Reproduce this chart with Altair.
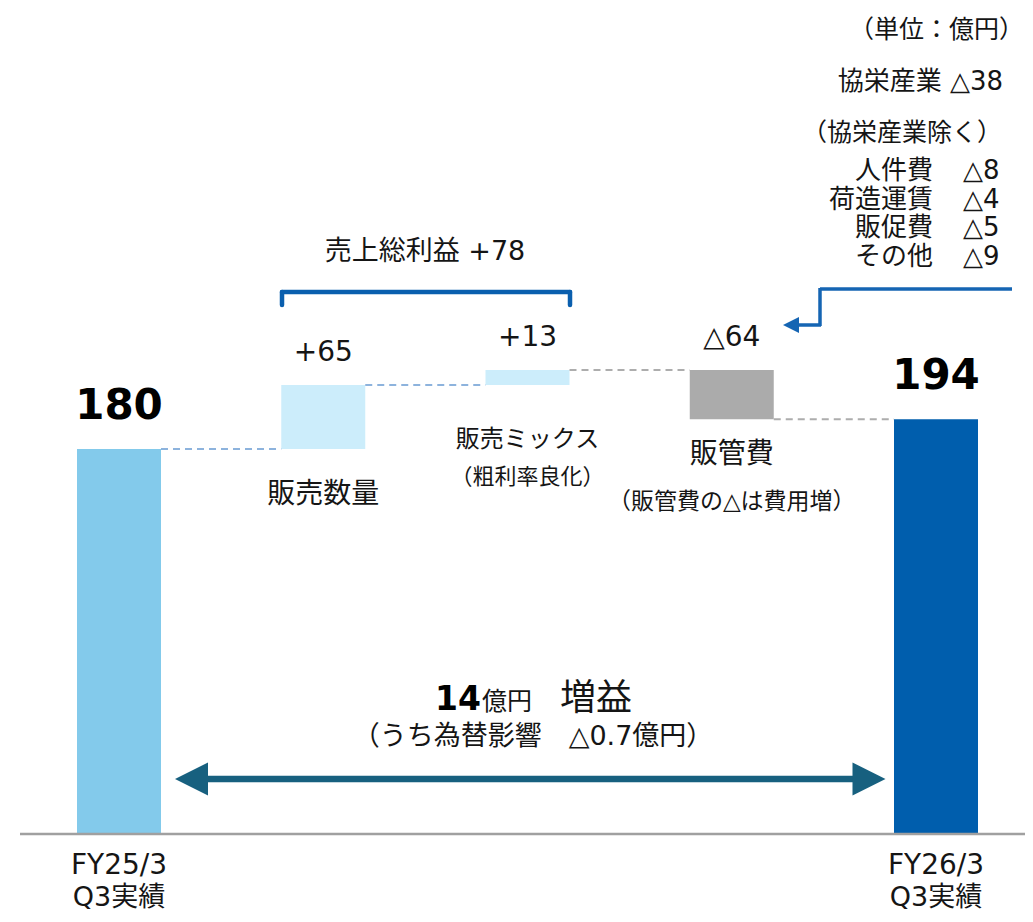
import altair as alt
import pandas as pd

# ---------------- data ----------------
categories = ["FY25/3", "販売数量", "販売ミックス", "販管費", "FY26/3"]
category_sub = ["Q3実績", "", "（粗利率良化）", "（販管費の△は費用増）", "Q3実績"]
amounts = [180, 65, 13, -64, 194]                 # printed values (億円)
value_labels = ["180", "+65", "+13", "△64", "194"]
kinds = ["total", "up", "up", "down", "total"]
drawn_steps = [180, 30, 7, -23, 194]              # bar heights as drawn (slide is not to scale)
bar_colors = ["#83CAEB", "#CCEDFB", "#CCEDFB", "#ABABAB", "#005EAD"]
link_colors = ["#8DB3DD", "#8DB3DD", "#ADADAD", "#ADADAD"]

sga_total = "協栄産業 △38"
sga_note = "（協栄産業除く）"
sga_items = ["人件費", "荷造運賃", "販促費", "その他"]
sga_values = ["△8", "△4", "△5", "△9"]

gross_label = "売上総利益 +78"
unit_label = "（単位：億円）"
diff_num = "14"
diff_unit = "億円"
diff_word = "増益"
fx_note = "（うち為替影響　△0.7億円）"

# ---------------- tables ----------------
STEP = 204.25
HALF = 42 / STEP
rows, level = [], 0
for i, (k, s) in enumerate(zip(kinds, drawn_steps)):
    if k == "total":
        start, end = 0, s
    else:
        start, end = level, level + s
    level = end
    rows.append(dict(idx=i, start=start, end=end, hi=max(start, end),
                     color=bar_colors[i], label=value_labels[i], kind=k))
bars = pd.DataFrame(rows)
links = pd.DataFrame([dict(x0=i + HALF, x1=i + 1 - HALF, lvl=rows[i]["end"], color=link_colors[i])
                      for i in range(len(rows) - 1)])

XMIN = -111 / STEP
X_SCALE = alt.Scale(domain=[XMIN, XMIN + 1017 / STEP], nice=False, zero=False, padding=0)
Y_SCALE = alt.Scale(domain=[-38, 386.75], nice=False, zero=False)
FONT = "DejaVu Sans, Noto Sans CJK JP"
TXT = "#151515"
dummy = pd.DataFrame({"d": [0]})


def xd(i):
    return alt.XDatum(i, type="quantitative", scale=X_SCALE)


def txt(text, x, y, size, align="center", baseline="middle", weight="normal", color=TXT):
    return alt.Chart(dummy).mark_text(
        text=text, fontSize=size, align=align, baseline=baseline, fontWeight=weight,
        color=color, font=FONT
    ).encode(x=x, y=alt.value(y))


def rule(x1, x2, y1, y2, color, width, cap="butt"):
    return alt.Chart(dummy).mark_rule(color=color, strokeWidth=width, strokeCap=cap).encode(
        x=alt.value(x1), x2=alt.value(x2), y=alt.value(y1), y2=alt.value(y2))


def tri(path, x, y, size, color):
    return alt.Chart(dummy).mark_point(shape=path, size=size, filled=True, opacity=1,
                                       color=color, strokeWidth=0).encode(
        x=alt.value(x), y=alt.value(y))


bar_layer = alt.Chart(bars).mark_bar(size=84).encode(
    x=alt.X("idx:Q", scale=X_SCALE, axis=None),
    y=alt.Y("start:Q", scale=Y_SCALE, axis=None),
    y2="end:Q",
    color=alt.Color("color:N", scale=None),
)

link_layer = alt.Chart(links).mark_rule(strokeDash=[7, 5], strokeWidth=2).encode(
    x=alt.X("x0:Q", scale=X_SCALE),
    x2="x1:Q",
    y=alt.Y("lvl:Q", scale=Y_SCALE),
    color=alt.Color("color:N", scale=None),
)

total_labels = alt.Chart(bars).transform_filter("datum.kind == 'total'").mark_text(
    fontSize=42, fontWeight="bold", dy=-43, font=FONT, color="#000000"
).encode(x=alt.X("idx:Q", scale=X_SCALE), y=alt.Y("hi:Q", scale=Y_SCALE), text="label:N")

delta_labels = alt.Chart(bars).transform_filter("datum.kind != 'total'").mark_text(
    fontSize=28, dy=-32, font=FONT, color=TXT
).encode(x=alt.X("idx:Q", scale=X_SCALE), y=alt.Y("hi:Q", scale=Y_SCALE), text="label:N")

baseline = rule(12, 1017, 826, 826, "#A0A0A0", 2.5)

layers = [bar_layer, link_layer, baseline, total_labels, delta_labels]

# category labels
layers += [
    txt(categories[0], xd(0), 858, 28), txt(category_sub[0], xd(0), 890, 27),
    txt(categories[4], xd(4), 858, 28), txt(category_sub[4], xd(4), 890, 27),
    txt(categories[1], xd(1), 487, 28),
    txt(categories[2], xd(2), 432, 24), txt(category_sub[2], xd(2), 469, 22),
    txt(categories[3], xd(3), 447, 28), txt(category_sub[3], xd(3), 494, 23),
]

# top-right notes
layers += [
    txt(unit_label, alt.value(1016), 22, 25, align="right"),
    txt(sga_total, alt.value(995), 74, 26, align="right"),
    txt(sga_note, alt.value(894), 125, 25),
]
for j, (a, b) in enumerate(zip(sga_items, sga_values)):
    yy = 163 + j * 28.5
    layers += [txt(a, alt.value(925), yy, 26, align="right"),
               txt(b, alt.value(955), yy, 26, align="left")]

# gross profit bracket
BR = "#0A5FAE"
layers += [
    txt(gross_label, alt.value(417), 244, 27),
    rule(274, 562, 284, 284, BR, 4.5, "round"),
    rule(274, 274, 284, 297, BR, 4.5, "round"),
    rule(562, 562, 284, 297, BR, 4.5, "round"),
]

# elbow arrow pointing to SG&A
EA = "#1565B3"
layers += [
    rule(812, 1004, 281, 281, EA, 3.5),
    rule(812, 812, 280, 318, EA, 3.5),
    rule(789, 813, 317, 317, EA, 3.5),
    tri("M-1,0L1,-1L1,1Z", 783, 317, 256, EA),
]

# difference annotation + double arrow
DA = "#17607F"
layers += [
    txt(diff_num, alt.value(427), 702, 33, align="left", baseline="alphabetic", weight="bold", color="#000000"),
    txt(diff_unit, alt.value(474), 702, 25, align="left", baseline="alphabetic"),
    txt(diff_word, alt.value(552), 702, 36, align="left", baseline="alphabetic"),
    txt(fx_note, alt.value(525), 729, 27),
    rule(195, 857, 771, 771, DA, 6.5),
    tri("M-1,0L1,-1L1,1Z", 183.5, 771, 1089, DA),
    tri("M1,0L-1,-1L-1,1Z", 861, 771, 1089, DA),
]

chart = alt.layer(*layers).properties(
    width=1017, height=906, padding=0,
    autosize=alt.AutoSizeParams(type="none"),
).configure_view(stroke=None)

chart.save("out.html", embed_options={"renderer": "svg", "actions": False})
